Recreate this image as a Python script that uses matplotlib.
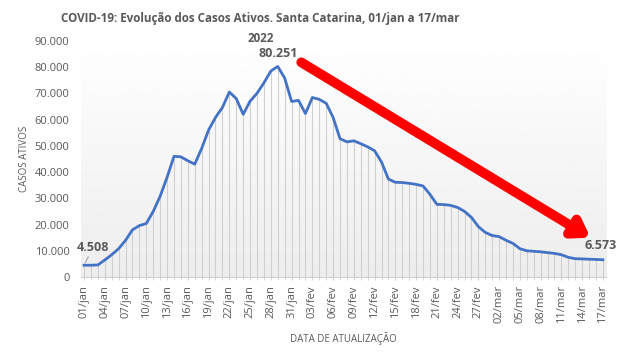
import numpy as np
from matplotlib import pyplot as plt
from matplotlib.ticker import FuncFormatter

# dias 01/jan a 17/mar 2022
months = [("jan", 31), ("fev", 28), ("mar", 17)]
dates = [f"{d:02d}/{m}" for m, n in months for d in range(1, n + 1)]

casos_ativos = [
    4508, 4500, 4600, 6500, 8500, 10800, 14000, 18000, 19600, 20400,   # jan 01-10
    25000, 30800, 38000, 46000, 45800, 44300, 43000, 49000, 56000, 60800,  # jan 11-20
    64600, 70500, 68000, 62000, 67000, 70000, 74000, 78500, 80251, 75800, 66900,  # jan 21-31
    67300, 62300, 68400, 67700, 66200, 60800, 52700, 51500, 51900, 50800,  # fev 01-10
    49600, 48100, 43800, 37300, 36100, 36000, 35700, 35300, 34700, 31500,  # fev 11-20
    27700, 27600, 27300, 26500, 25000, 22700, 19200, 17000,  # fev 21-28
    15800, 15400, 14000, 12800, 10800, 10000, 9800, 9600, 9300, 9000,  # mar 01-10
    8500, 7500, 7000, 6900, 6800, 6700, 6573,  # mar 11-17
]

grey = "#595959"
x = np.arange(len(dates))

fig = plt.figure(figsize=(6.2, 3.52), dpi=100)
plt.rcParams['font.family'] = ['Open Sans', 'DejaVu Sans']
ax = fig.add_axes([0.130, 0.213, 0.848, 0.671])

# fundo em degradê (branco -> cinza claro)
grad = np.linspace(0.93, 1.0, 256).reshape(-1, 1)
ax.imshow(grad, extent=[-0.5, len(x) - 0.5, 0, 90000], origin="lower",
          cmap="gray", vmin=0, vmax=1, aspect="auto", zorder=0)

ax.vlines(x, 0, casos_ativos, color="#d0d0d0", lw=0.8, zorder=1)
ax.plot(x, casos_ativos, color="#4472C4", lw=2, zorder=3)

ax.set_xlim(-0.5, len(x) - 0.5)
ax.set_ylim(0, 90000)
ax.set_yticks(range(0, 90001, 10000))
ax.yaxis.set_major_formatter(FuncFormatter(lambda v, p: f"{int(v):,}".replace(",", ".")))
ax.set_xticks(x[::3])
ax.set_xticklabels(dates[::3], rotation=90)
ax.set_xticks(x, minor=True)
ax.tick_params(axis="x", which="both", length=4, color="#d0d0d0", direction="inout",
               labelsize=8, labelcolor=grey, pad=4)
ax.tick_params(axis="y", length=0, labelsize=8, labelcolor=grey, pad=8)
for s in ["top", "right", "left"]:
    ax.spines[s].set_visible(False)
ax.spines["bottom"].set_color("#d0d0d0")

ax.set_xlabel("DATA DE ATUALIZAÇÃO", fontsize=7, color=grey, labelpad=6)
ax.set_ylabel("CASOS ATIVOS", fontsize=7, color=grey, labelpad=3)

# rótulos de dados
fmt = lambda v: f"{v:,}".replace(",", ".")
ax.annotate(fmt(casos_ativos[0]), xy=(x[0], casos_ativos[0]), xytext=(1.3, 8800),
            fontsize=9, fontweight="bold", color=grey, ha="center", va="bottom",
            arrowprops=dict(arrowstyle="-", color="#a6a6a6", lw=0.8,
                            shrinkA=0, shrinkB=2))
imax = int(np.argmax(casos_ativos))
ax.text(x[imax], casos_ativos[imax] + 2300, fmt(casos_ativos[imax]), fontsize=9,
        fontweight="bold", color=grey, ha="center", va="bottom")
ax.text(x[-1] - 0.3, casos_ativos[-1] + 3000, fmt(casos_ativos[-1]), fontsize=9,
        fontweight="bold", color=grey, ha="center", va="bottom")

# seta vermelha de tendência
ax.annotate("", xy=(73.2, 15000), xytext=(31.4, 81800),
            arrowprops=dict(arrowstyle="-|>,head_length=0.9,head_width=0.6",
                            color="#ff0000", lw=7, shrinkA=0, shrinkB=0))

fig.text(0.42, 0.948, "COVID-19: Evolução dos Casos Ativos. Santa Catarina, 01/jan a 17/mar",
         ha="center", va="center", fontsize=8.4, fontweight="bold", color=grey)
fig.text(0.42, 0.891, "2022",
         ha="center", va="center", fontsize=8.4, fontweight="bold", color=grey)

fig.savefig("out.png", dpi=100)
